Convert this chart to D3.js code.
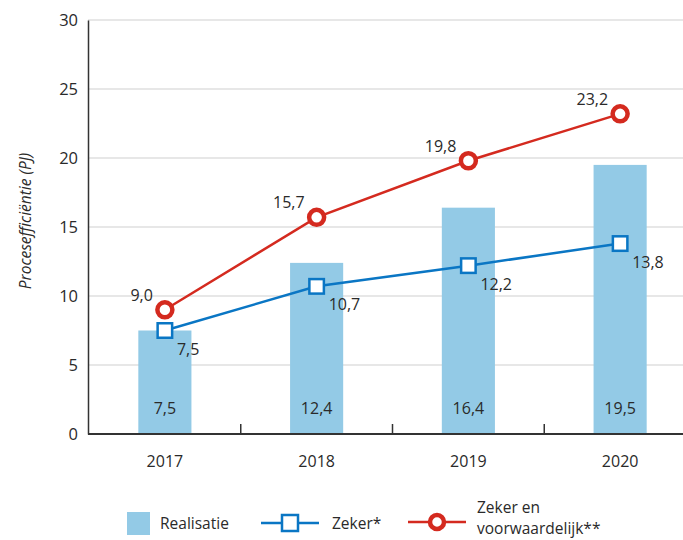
<!DOCTYPE html>
<html>
<head>
<meta charset="utf-8">
<script src="https://cdn.jsdelivr.net/npm/d3@7/dist/d3.min.js"></script>
<style>
  html, body { margin: 0; padding: 0; background: #fff; }
  svg { display: block; font-family: "Open Sans", "Noto Sans", sans-serif; }
</style>
</head>
<body>
<svg id="chart" width="683" height="540"></svg>
<script>
// Years on the x axis
const years = ["2017", "2018", "2019", "2020"];
// Realised process efficiency (PJ), bars
const realisatie = [7.5, 12.4, 16.4, 19.5];
// Secured measures (PJ), blue line
const zeker = [7.5, 10.7, 12.2, 13.8];
// Secured plus conditional measures (PJ), red line
const zekerVoorwaardelijk = [9.0, 15.7, 19.8, 23.2];
// Y axis ticks
const yTicks = [0, 5, 10, 15, 20, 25, 30];

const fmt = v => d3.format(".1f")(v).replace(".", ",");

const svg = d3.select("#chart");
const W = 683;
const barColor = "#93cae6";
const blue = "#0a76c4";
const red = "#d42a1f";
const textColor = "#2a2a2a";

const x = d3.scaleBand().domain(years).range([89, 696]).padding(0);
const y = d3.scaleLinear().domain([0, 30]).range([434, 20]);
const cx = d => x(d) + x.bandwidth() / 2;

// Gridlines
svg.append("g")
  .selectAll("line")
  .data(yTicks.filter(t => t > 0))
  .join("line")
  .attr("x1", 88).attr("x2", W)
  .attr("y1", d => y(d)).attr("y2", d => y(d))
  .attr("stroke", "#cfcfcf").attr("stroke-width", 1);

// Bars
const barW = x.bandwidth() * 0.35;
svg.append("g")
  .selectAll("rect")
  .data(years)
  .join("rect")
  .attr("x", d => cx(d) - barW / 2)
  .attr("width", barW)
  .attr("y", (d, i) => y(realisatie[i]))
  .attr("height", (d, i) => y(0) - y(realisatie[i]))
  .attr("fill", barColor);

// Bar value labels
svg.append("g")
  .selectAll("text")
  .data(years)
  .join("text")
  .attr("x", d => cx(d))
  .attr("y", 414)
  .attr("text-anchor", "middle")
  .attr("font-size", 16)
  .attr("fill", textColor)
  .text((d, i) => fmt(realisatie[i]));

// Y axis
const yAxis = svg.append("g")
  .attr("transform", "translate(88,0)")
  .call(d3.axisLeft(y).tickValues(yTicks).tickSize(0).tickPadding(10).tickFormat(d3.format("d")));
yAxis.select(".domain").attr("stroke", "#333").attr("stroke-width", 1.5);
yAxis.selectAll("text").attr("font-size", 16.5).attr("fill", textColor)
  .attr("font-family", "'Open Sans', sans-serif");

// X axis
const xAxis = svg.append("g")
  .attr("transform", "translate(0,434)")
  .call(d3.axisBottom(x).tickSize(0).tickPadding(22));
xAxis.select(".domain").attr("stroke", "#333").attr("stroke-width", 2)
  .attr("d", `M88,0H${W}`);
xAxis.selectAll("text").attr("font-size", 16).attr("fill", textColor)
  .attr("font-family", "'Open Sans', sans-serif");

// Category separators on the x axis
svg.append("g")
  .selectAll("line")
  .data(years.slice(1))
  .join("line")
  .attr("x1", d => x(d)).attr("x2", d => x(d))
  .attr("y1", 424).attr("y2", 434)
  .attr("stroke", "#333").attr("stroke-width", 1.5);

// Y axis title
svg.append("text")
  .attr("transform", "translate(31,221) rotate(-90)")
  .attr("text-anchor", "middle")
  .attr("font-size", 15.5)
  .attr("font-style", "italic")
  .attr("fill", textColor)
  .text("Procesefficiëntie (PJ)");

const line = d3.line().x(d => cx(d.year)).y(d => y(d.v));

// Blue line
const zData = years.map((yr, i) => ({ year: yr, v: zeker[i] }));
svg.append("path").datum(zData)
  .attr("d", line).attr("fill", "none")
  .attr("stroke", blue).attr("stroke-width", 2.5);

// Red line
const rData = years.map((yr, i) => ({ year: yr, v: zekerVoorwaardelijk[i] }));
svg.append("path").datum(rData)
  .attr("d", line).attr("fill", "none")
  .attr("stroke", red).attr("stroke-width", 2.5);

// Blue markers
svg.append("g").selectAll("rect").data(zData).join("rect")
  .attr("x", d => cx(d.year) - 7.25).attr("y", d => y(d.v) - 7.25)
  .attr("width", 14.5).attr("height", 14.5)
  .attr("fill", "#fff").attr("stroke", blue).attr("stroke-width", 2.5);

// Red markers
svg.append("g").selectAll("circle").data(rData).join("circle")
  .attr("cx", d => cx(d.year)).attr("cy", d => y(d.v))
  .attr("r", 7.5).attr("fill", "#fff").attr("stroke", red).attr("stroke-width", 4.5);

// Line value labels
svg.append("g").selectAll("text").data(zData).join("text")
  .attr("x", d => cx(d.year) + 12).attr("y", d => y(d.v) + 24)
  .attr("font-size", 16).attr("fill", textColor)
  .text(d => fmt(d.v));
svg.append("g").selectAll("text").data(rData).join("text")
  .attr("x", d => cx(d.year) - 12).attr("y", d => y(d.v) - 9)
  .attr("text-anchor", "end")
  .attr("font-size", 16).attr("fill", textColor)
  .text(d => fmt(d.v));

// Legend
const lg = svg.append("g").attr("font-size", 15.5).attr("fill", textColor);
lg.append("rect").attr("x", 127).attr("y", 512).attr("width", 23).attr("height", 23).attr("fill", barColor);
lg.append("text").attr("x", 160).attr("y", 529).text("Realisatie");

lg.append("line").attr("x1", 261).attr("x2", 319).attr("y1", 523).attr("y2", 523)
  .attr("stroke", blue).attr("stroke-width", 2.5);
lg.append("rect").attr("x", 282).attr("y", 515).attr("width", 16).attr("height", 16)
  .attr("fill", "#fff").attr("stroke", blue).attr("stroke-width", 2.5);
lg.append("text").attr("x", 332).attr("y", 529).text("Zeker*");

lg.append("line").attr("x1", 408).attr("x2", 466).attr("y1", 522).attr("y2", 522)
  .attr("stroke", red).attr("stroke-width", 2.5);
lg.append("circle").attr("cx", 437).attr("cy", 522).attr("r", 7)
  .attr("fill", "#fff").attr("stroke", red).attr("stroke-width", 4.5);
lg.append("text").attr("x", 477).attr("y", 513).text("Zeker en");
lg.append("text").attr("x", 477).attr("y", 534).text("voorwaardelijk**");
</script>
</body>
</html>
